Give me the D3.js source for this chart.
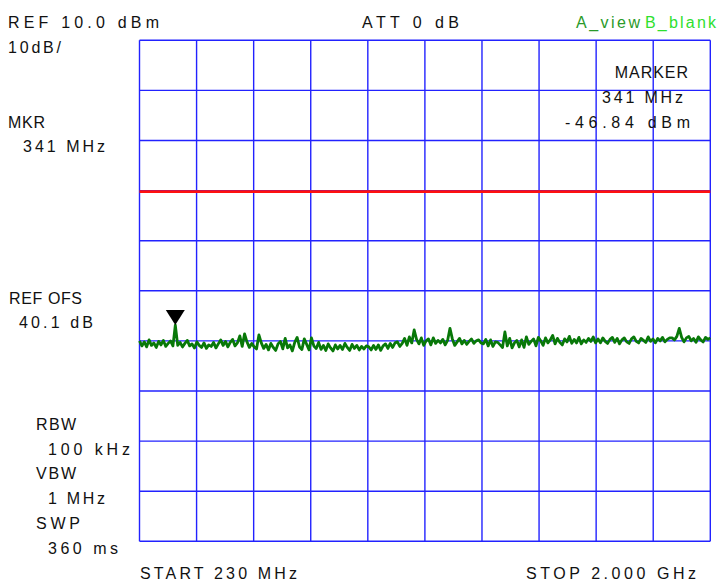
<!DOCTYPE html>
<html>
<head>
<meta charset="utf-8">
<script src="https://cdn.jsdelivr.net/npm/d3@7"></script>
<style>
html,body{margin:0;padding:0;background:#fff;}
svg{display:block;}
text{font-family:"Liberation Sans",Arial,sans-serif;font-size:16px;fill:#111;}
</style>
</head>
<body>
<svg id="chart" width="718" height="583"></svg>
<script>
// ---- data ----
const startMHz = 230;
const stopMHz = 2000;
const refLevel = 10;      // dBm (top of screen)
const dbPerDiv = 10;
const divisions = 10;
const displayLine = -20.2; // dBm, red display line
const markerFreq = 341;   // MHz
const markerLevel = -46.84; // dBm

// trace values (dBm), evenly spaced sweep points from start to stop
const traceDbm = [
  -50.0,-51.0,-50.2,-51.2,-49.8,-50.9,-50.4,-51.3,-50.1,-50.8,-49.9,-51.1,-50.5,-50.0,-51.0,
  -46.84,
  -50.9,-50.3,-51.2,-50.5,-49.9,-51.0,-50.6,-51.4,-50.2,-50.9,-51.3,-50.4,-51.5,-50.8,-51.1,-50.3,
  -51.4,-50.6,-49.8,-50.9,-50.1,-51.2,-50.3,-49.7,-51.0,-50.4,-49.0,-51.1,-48.6,-50.2,-51.3,-50.5,
  -51.2,-51.6,-48.8,-50.4,-51.5,-50.7,-51.8,-50.5,-51.3,-51.9,-50.6,-50.1,-51.6,-49.5,-51.4,-50.8,
  -52.0,-50.3,-49.3,-51.2,-51.7,-49.6,-50.7,-51.8,-49.4,-51.0,-51.5,-50.3,-51.7,-50.9,-51.9,-50.6,
  -51.4,-52.0,-50.8,-51.6,-50.9,-51.7,-50.5,-51.3,-51.9,-50.7,-51.5,-50.9,-51.8,-51.1,-51.6,-51.0,
  -51.2,-51.8,-50.9,-51.7,-50.8,-51.9,-51.0,-50.6,-51.5,-50.5,-51.3,-50.4,-50.2,-51.1,-50.5,-49.5,
  -50.9,-49.2,-50.4,-47.8,-49.7,-50.6,-49.4,-50.9,-50.0,-49.6,-50.8,-49.4,-50.5,-49.9,-50.4,-49.7,
  -50.8,-49.9,-47.5,-49.6,-50.9,-50.2,-49.5,-50.6,-49.9,-50.7,-50.1,-49.6,-50.5,-50.0,-49.8,-50.4,
  -50.6,-49.7,-51.0,-49.8,-51.1,-50.2,-50.3,-50.8,-51.3,-48.2,-51.0,-49.5,-51.4,-50.4,-49.9,-51.2,
  -49.8,-51.3,-49.2,-50.7,-50.1,-49.6,-51.0,-49.3,-50.0,-50.9,-49.4,-50.4,-49.8,-48.9,-50.6,-49.5,
  -50.3,-50.8,-49.6,-50.2,-49.1,-50.5,-49.7,-50.4,-49.3,-50.6,-49.8,-50.3,-49.5,-50.1,-49.2,-50.4,
  -49.6,-50.4,-49.4,-50.1,-50.5,-49.7,-49.3,-50.3,-49.5,-50.6,-49.8,-49.4,-50.2,-50.5,-49.6,-49.2,
  -50.1,-50.4,-49.5,-49.9,-50.3,-49.2,-50.1,-49.6,-50.4,-49.5,-50.0,-49.3,-50.2,-49.7,-49.4,-49.4,
  -49.8,-49.1,-47.5,-49.3,-50.2,-49.4,-49.1,-50.0,-49.5,-50.3,-49.2,-49.8,-50.2,-49.3,-49.7,-49.4
];

const labels = [
  {t:"REF 10.0 dBm", x:8, y:27.5, w:151},
  {t:"10dB/", x:8, y:53, w:53},
  {t:"MKR", x:8, y:128.3, w:37},
  {t:"341 MHz", x:23, y:151.7, w:82},
  {t:"ATT 0 dB", x:362, y:27.5, w:97},
  {t:"MARKER", x:614.7, y:78.3, w:73.3},
  {t:"341 MHz", x:602, y:102.7, w:81},
  {t:"-46.84 dBm", x:565, y:128.3, w:125},
  {t:"REF OFS", x:9, y:304, w:73},
  {t:"40.1 dB", x:19, y:327.7, w:74},
  {t:"RBW", x:36, y:430, w:40},
  {t:"100 kHz", x:48, y:455, w:82},
  {t:"VBW", x:36, y:479, w:40},
  {t:"1 MHz", x:48, y:504, w:57},
  {t:"SWP", x:36, y:529.3, w:44},
  {t:"360 ms", x:48, y:554, w:70},
  {t:"START 230 MHz", x:140, y:579, w:157},
  {t:"STOP 2.000 GHz", x:526, y:579, w:170}
];
const modeLabels = [
  {t:"A_view", x:576, y:27.5, w:64, c:"#2a9a2a"},
  {t:"B_blank", x:645, y:27.5, w:71, c:"#2ee02e"}
];

// ---- drawing ----
const svg = d3.select("#chart");
const x = d3.scaleLinear().domain([startMHz, stopMHz]).range([139.5, 710.3]);
const y = d3.scaleLinear().domain([refLevel, refLevel - dbPerDiv*divisions]).range([40.3, 541.3]);

const xTicks = d3.range(divisions+1).map(i => startMHz + i*(stopMHz-startMHz)/divisions);
const yTicks = d3.range(divisions+1).map(i => refLevel - i*dbPerDiv);

const grid = svg.append("g");
grid.selectAll("line.v").data(xTicks).join("line")
  .attr("x1", d=>x(d)).attr("x2", d=>x(d))
  .attr("y1", y.range()[0]).attr("y2", y.range()[1])
  .attr("stroke", "#2222ff").attr("stroke-width", 1.4);
grid.selectAll("line.h").data(yTicks).join("line")
  .attr("y1", d=>y(d)).attr("y2", d=>y(d))
  .attr("x1", x.range()[0]).attr("x2", x.range()[1])
  .attr("stroke", "#2222ff").attr("stroke-width", 1.4);

// display line
svg.append("line")
  .attr("x1", x.range()[0]).attr("x2", x.range()[1])
  .attr("y1", y(displayLine)).attr("y2", y(displayLine))
  .attr("stroke", "#ff1010").attr("stroke-width", 2.6);

// trace
const n = traceDbm.length;
const traceData = traceDbm.map((v,i) => ({f: startMHz + i*(stopMHz-startMHz)/(n-1), v}));
const line = d3.line().x(d=>x(d.f)).y(d=>y(d.v));
svg.append("path").datum(traceData)
  .attr("d", line).attr("fill", "none")
  .attr("stroke", "#087808").attr("stroke-width", 2.8).attr("stroke-linejoin", "round");

// marker triangle
const mx = x(markerFreq), my = y(markerLevel);
svg.append("path")
  .attr("d", d3.line()([[mx-9.5, my-15],[mx+9.5, my-15],[mx, my]]) + "Z")
  .attr("fill", "#000");

// labels
svg.selectAll("text.lab").data(labels).join("text")
  .attr("class","lab")
  .attr("x", d=>d.x).attr("y", d=>d.y)
  .attr("textLength", d=>d.w).attr("lengthAdjust", "spacing")
  .text(d=>d.t);
svg.selectAll("text.mode").data(modeLabels).join("text")
  .attr("class","mode")
  .attr("x", d=>d.x).attr("y", d=>d.y)
  .attr("textLength", d=>d.w).attr("lengthAdjust", "spacing")
  .style("fill", d=>d.c)
  .text(d=>d.t);
</script>
</body>
</html>
